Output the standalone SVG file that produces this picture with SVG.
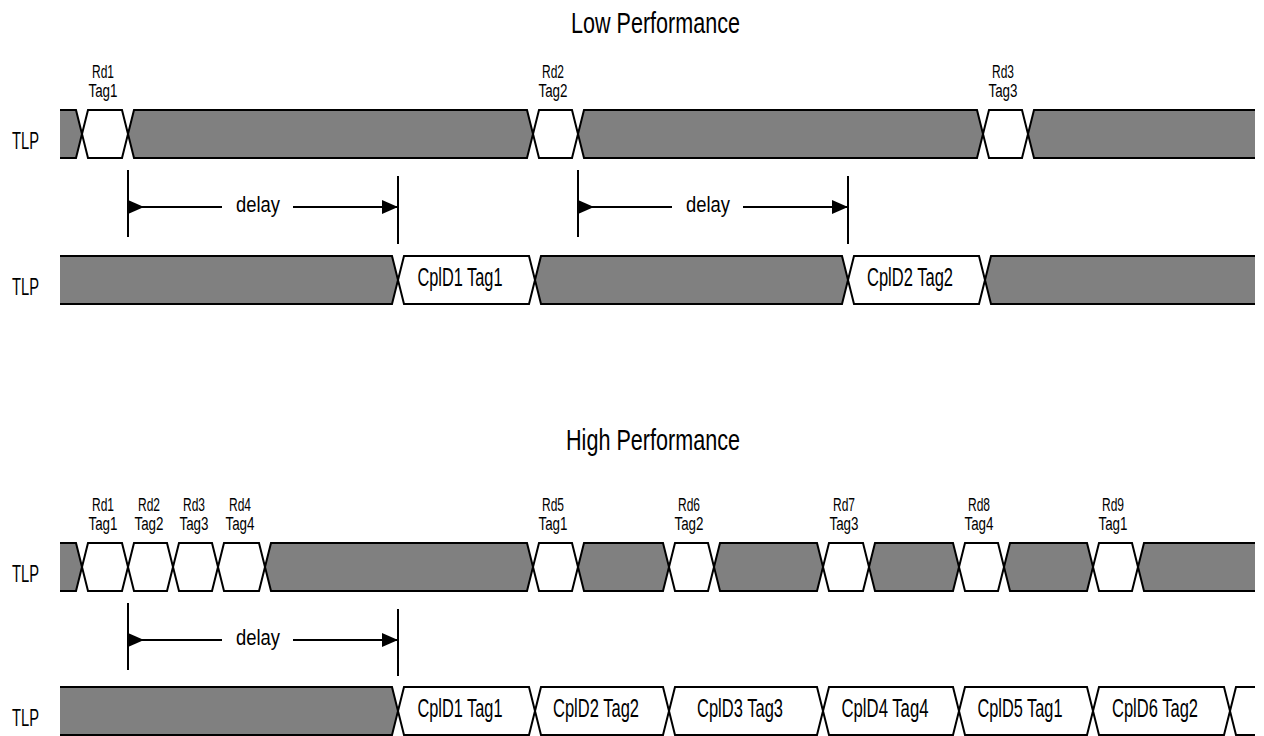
<svg xmlns="http://www.w3.org/2000/svg" width="1264" height="736" viewBox="0 0 1264 736">
<defs>
<style>
.g{fill:#808080;stroke:#000;stroke-width:2;stroke-linejoin:miter}
.w{fill:#fff;stroke:#000;stroke-width:2;stroke-linejoin:miter}
.t{font-family:"Liberation Sans",Arial,sans-serif;fill:#000}
.title{font-size:29px}
.tlp{font-size:23px}
.rd{font-size:18px;text-anchor:middle}
.cpl{font-size:26px;text-anchor:middle}
.dly{font-size:22px}
.tick{stroke:#000;stroke-width:2;fill:none}
.arr{stroke:#000;stroke-width:2;fill:none}
.s{marker-start:url(#base)}
.e{marker-end:url(#tip)}
</style>
<marker id="tip" viewBox="0 0 16 14" markerWidth="16" markerHeight="14" refX="16" refY="7" orient="auto" markerUnits="userSpaceOnUse"><path d="M0,0 L16,7 L0,14 Z" fill="#000"/></marker>
<marker id="base" viewBox="0 0 16 14" markerWidth="16" markerHeight="14" refX="0" refY="7" orient="auto" markerUnits="userSpaceOnUse"><path d="M0,0 L16,7 L0,14 Z" fill="#000"/></marker>
</defs>
<rect width="1264" height="736" fill="#fff"/>

<g id="titles">
<text class="t title" x="571" y="33" textLength="169" lengthAdjust="spacingAndGlyphs">Low Performance</text>
<text class="t title" x="566" y="450" textLength="174" lengthAdjust="spacingAndGlyphs">High Performance</text>
</g>

<g id="row-labels">
<text class="t tlp" x="12" y="149" textLength="27" lengthAdjust="spacingAndGlyphs">TLP</text>
<text class="t tlp" x="12" y="295" textLength="27" lengthAdjust="spacingAndGlyphs">TLP</text>
<text class="t tlp" x="12" y="582" textLength="27" lengthAdjust="spacingAndGlyphs">TLP</text>
<text class="t tlp" x="12" y="726" textLength="27" lengthAdjust="spacingAndGlyphs">TLP</text>
</g>

<g id="low-request-row">
<path class="g" d="M60,110 H76 L82,134 L76,158 H60"/>
<g id="low-rd1"><path class="w" d="M82,134 L88,110 H122 L128,134 L122,158 H88 Z"/>
<text class="t rd" x="103" y="78" textLength="22" lengthAdjust="spacingAndGlyphs">Rd1</text>
<text class="t rd" x="103" y="97" textLength="29" lengthAdjust="spacingAndGlyphs">Tag1</text></g>
<path class="g" d="M128,134 L134,110 H527 L533,134 L527,158 H134 Z"/>
<g id="low-rd2"><path class="w" d="M533,134 L539,110 H572 L578,134 L572,158 H539 Z"/>
<text class="t rd" x="553" y="78" textLength="22" lengthAdjust="spacingAndGlyphs">Rd2</text>
<text class="t rd" x="553" y="97" textLength="29" lengthAdjust="spacingAndGlyphs">Tag2</text></g>
<path class="g" d="M578,134 L584,110 H977 L983,134 L977,158 H584 Z"/>
<g id="low-rd3"><path class="w" d="M983,134 L989,110 H1022 L1028,134 L1022,158 H989 Z"/>
<text class="t rd" x="1003" y="78" textLength="22" lengthAdjust="spacingAndGlyphs">Rd3</text>
<text class="t rd" x="1003" y="97" textLength="29" lengthAdjust="spacingAndGlyphs">Tag3</text></g>
<path class="g" d="M1255,110 H1034 L1028,134 L1034,158 H1255"/>
</g>

<g id="low-completion-row">
<path class="g" d="M60,256 H392 L398,280 L392,304 H60"/>
<g id="low-cpl1"><path class="w" d="M398,280 L404,256 H529 L535,280 L529,304 H404 Z"/>
<text class="t cpl" x="460" y="286" textLength="85" lengthAdjust="spacingAndGlyphs">CplD1 Tag1</text></g>
<path class="g" d="M535,280 L541,256 H842 L848,280 L842,304 H541 Z"/>
<g id="low-cpl2"><path class="w" d="M848,280 L854,256 H979 L985,280 L979,304 H854 Z"/>
<text class="t cpl" x="910" y="286" textLength="86" lengthAdjust="spacingAndGlyphs">CplD2 Tag2</text></g>
<path class="g" d="M1255,256 H991 L985,280 L991,304 H1255"/>
</g>

<g id="high-request-row">
<path class="g" d="M60,543 H76 L82,567 L76,591 H60"/>
<g id="high-rd1"><path class="w" d="M82,567 L88,543 H122 L128,567 L122,591 H88 Z"/>
<text class="t rd" x="103" y="511" textLength="22" lengthAdjust="spacingAndGlyphs">Rd1</text>
<text class="t rd" x="103" y="530" textLength="29" lengthAdjust="spacingAndGlyphs">Tag1</text></g>
<g id="high-rd2"><path class="w" d="M128,567 L134,543 H167 L173,567 L167,591 H134 Z"/>
<text class="t rd" x="149" y="511" textLength="22" lengthAdjust="spacingAndGlyphs">Rd2</text>
<text class="t rd" x="149" y="530" textLength="29" lengthAdjust="spacingAndGlyphs">Tag2</text></g>
<g id="high-rd3"><path class="w" d="M173,567 L179,543 H212 L218,567 L212,591 H179 Z"/>
<text class="t rd" x="194" y="511" textLength="22" lengthAdjust="spacingAndGlyphs">Rd3</text>
<text class="t rd" x="194" y="530" textLength="29" lengthAdjust="spacingAndGlyphs">Tag3</text></g>
<g id="high-rd4"><path class="w" d="M218,567 L224,543 H259 L265,567 L259,591 H224 Z"/>
<text class="t rd" x="240" y="511" textLength="22" lengthAdjust="spacingAndGlyphs">Rd4</text>
<text class="t rd" x="240" y="530" textLength="29" lengthAdjust="spacingAndGlyphs">Tag4</text></g>
<path class="g" d="M265,567 L271,543 H527 L533,567 L527,591 H271 Z"/>
<g id="high-rd5"><path class="w" d="M533,567 L539,543 H572 L578,567 L572,591 H539 Z"/>
<text class="t rd" x="553" y="511" textLength="22" lengthAdjust="spacingAndGlyphs">Rd5</text>
<text class="t rd" x="553" y="530" textLength="29" lengthAdjust="spacingAndGlyphs">Tag1</text></g>
<path class="g" d="M578,567 L584,543 H663 L669,567 L663,591 H584 Z"/>
<g id="high-rd6"><path class="w" d="M669,567 L675,543 H708 L714,567 L708,591 H675 Z"/>
<text class="t rd" x="689" y="511" textLength="22" lengthAdjust="spacingAndGlyphs">Rd6</text>
<text class="t rd" x="689" y="530" textLength="29" lengthAdjust="spacingAndGlyphs">Tag2</text></g>
<path class="g" d="M714,567 L720,543 H817 L823,567 L817,591 H720 Z"/>
<g id="high-rd7"><path class="w" d="M823,567 L829,543 H863 L869,567 L863,591 H829 Z"/>
<text class="t rd" x="844" y="511" textLength="22" lengthAdjust="spacingAndGlyphs">Rd7</text>
<text class="t rd" x="844" y="530" textLength="29" lengthAdjust="spacingAndGlyphs">Tag3</text></g>
<path class="g" d="M869,567 L875,543 H953 L959,567 L953,591 H875 Z"/>
<g id="high-rd8"><path class="w" d="M959,567 L965,543 H998 L1004,567 L998,591 H965 Z"/>
<text class="t rd" x="979" y="511" textLength="22" lengthAdjust="spacingAndGlyphs">Rd8</text>
<text class="t rd" x="979" y="530" textLength="29" lengthAdjust="spacingAndGlyphs">Tag4</text></g>
<path class="g" d="M1004,567 L1010,543 H1087 L1093,567 L1087,591 H1010 Z"/>
<g id="high-rd9"><path class="w" d="M1093,567 L1099,543 H1132 L1138,567 L1132,591 H1099 Z"/>
<text class="t rd" x="1113" y="511" textLength="22" lengthAdjust="spacingAndGlyphs">Rd9</text>
<text class="t rd" x="1113" y="530" textLength="29" lengthAdjust="spacingAndGlyphs">Tag1</text></g>
<path class="g" d="M1255,543 H1144 L1138,567 L1144,591 H1255"/>
</g>

<g id="high-completion-row">
<path class="g" d="M60,687 H392 L398,711 L392,735 H60"/>
<g id="high-cpl1"><path class="w" d="M398,711 L404,687 H529 L535,711 L529,735 H404 Z"/>
<text class="t cpl" x="460" y="717" textLength="85" lengthAdjust="spacingAndGlyphs">CplD1 Tag1</text></g>
<g id="high-cpl2"><path class="w" d="M535,711 L541,687 H663 L669,711 L663,735 H541 Z"/>
<text class="t cpl" x="596" y="717" textLength="86" lengthAdjust="spacingAndGlyphs">CplD2 Tag2</text></g>
<g id="high-cpl3"><path class="w" d="M669,711 L675,687 H817 L823,711 L817,735 H675 Z"/>
<text class="t cpl" x="740" y="717" textLength="86" lengthAdjust="spacingAndGlyphs">CplD3 Tag3</text></g>
<g id="high-cpl4"><path class="w" d="M823,711 L829,687 H953 L959,711 L953,735 H829 Z"/>
<text class="t cpl" x="885" y="717" textLength="87" lengthAdjust="spacingAndGlyphs">CplD4 Tag4</text></g>
<g id="high-cpl5"><path class="w" d="M959,711 L965,687 H1087 L1093,711 L1087,735 H965 Z"/>
<text class="t cpl" x="1020" y="717" textLength="85" lengthAdjust="spacingAndGlyphs">CplD5 Tag1</text></g>
<g id="high-cpl6"><path class="w" d="M1093,711 L1099,687 H1224 L1230,711 L1224,735 H1099 Z"/>
<text class="t cpl" x="1155" y="717" textLength="86" lengthAdjust="spacingAndGlyphs">CplD6 Tag2</text></g>
<path class="w" d="M1255,687 H1236 L1230,711 L1236,735 H1255"/>
</g>

<g id="connectors">
<path class="tick" d="M128,170 V237 M398,176 V244 M578,170 V237 M848,176 V244 M128,603 V670 M398,609 V676"/>
<path class="arr s" d="M128,207 H222"/>
<path class="arr e" d="M293,207 H398"/>
<path class="arr s" d="M578,207 H672"/>
<path class="arr e" d="M743,207 H848"/>
<path class="arr s" d="M128,640 H222"/>
<path class="arr e" d="M293,640 H398"/>
<text class="t dly" x="236" y="212" textLength="44" lengthAdjust="spacingAndGlyphs">delay</text>
<text class="t dly" x="686" y="212" textLength="44" lengthAdjust="spacingAndGlyphs">delay</text>
<text class="t dly" x="236" y="645" textLength="44" lengthAdjust="spacingAndGlyphs">delay</text>
</g>
</svg>
